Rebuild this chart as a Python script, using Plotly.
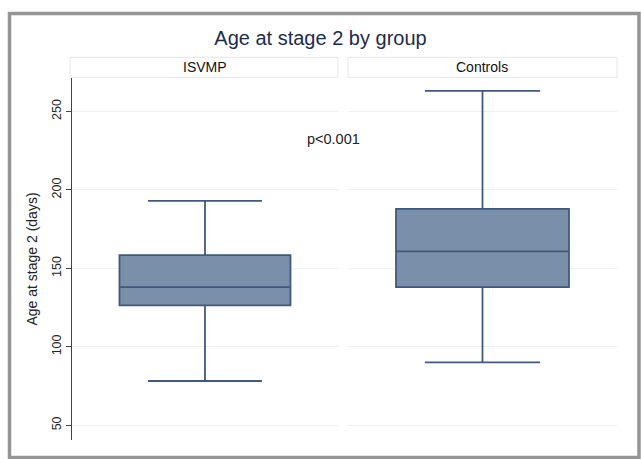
import plotly.graph_objects as go

groups = ["ISVMP", "Controls"]
lower_whisker = [78.2, 90.1]
q1_vals = [126.4, 138.0]
medians = [138.0, 160.8]
q3_vals = [158.4, 187.9]
upper_whisker = [193.0, 263.1]
y_ticks = [50, 100, 150, 200, 250]
p_text = "p<0.001"
p_y = 232.4

FILL = "#7a8fa9"
LINE = "#3f5a7d"
GRID = "#eceff5"
FONT = "Liberation Sans, Arial, sans-serif"

fig = go.Figure()
axes = [("x", "y"), ("x2", "y2")]
for i, g in enumerate(groups):
    xa, ya = axes[i]
    fig.add_trace(go.Box(
        x=[g],
        q1=[q1_vals[i]], median=[medians[i]], q3=[q3_vals[i]],
        lowerfence=[lower_whisker[i]], upperfence=[upper_whisker[i]],
        fillcolor=FILL, line=dict(color=LINE, width=1.8),
        width=0.643, whiskerwidth=0.666, boxpoints=False,
        xaxis=xa, yaxis=ya, showlegend=False, hoverinfo="skip",
    ))

yr = [40.6, 271.3]
fig.update_layout(
    width=641, height=459,
    margin=dict(l=72, r=24, t=78, b=19),
    paper_bgcolor="white", plot_bgcolor="white",
    font=dict(family=FONT, color="#222"),
    title=dict(text="Age at stage 2 by group", x=0.5, xanchor="center",
               y=1 - 38 / 459, yanchor="middle",
               font=dict(size=20, color="#1e2b4d", family=FONT)),
    xaxis=dict(domain=[0, 0.488], range=[-0.5, 0.5], showticklabels=False,
               showgrid=False, zeroline=False, showline=False, ticks=""),
    xaxis2=dict(domain=[0.5064, 1], range=[-0.5, 0.5], showticklabels=False,
                showgrid=False, zeroline=False, showline=False, ticks=""),
    yaxis=dict(range=yr, tickvals=y_ticks, tickangle=-90, showline=True,
               linecolor="#444", linewidth=1.2, ticks="outside", ticklen=5,
               tickcolor="#444", gridcolor=GRID, gridwidth=1, zeroline=False,
               tickfont=dict(size=12.5, color="#222"),
               title=dict(text="Age at stage 2 (days)", standoff=9,
                          font=dict(size=14, color="#222"))),
    yaxis2=dict(range=yr, tickvals=y_ticks, anchor="x2", matches="y",
                showticklabels=False, showline=False, ticks="",
                gridcolor=GRID, gridwidth=1, zeroline=False),
)

shapes = []
# outer gray frame
shapes.append(dict(type="rect", xref="paper", yref="paper",
                   x0=(9.5 - 72) / 545, x1=(639 - 72) / 545,
                   y0=(440 - 457.5) / 362, y1=(440 - 13.5) / 362,
                   line=dict(color="#959595", width=3.5), fillcolor="rgba(0,0,0,0)",
                   layer="above"))
# strip boxes
sy0 = (440 - 77.3) / 362
sy1 = (440 - 57.3) / 362
for xd, x0 in (("x domain", -0.0075), ("x2 domain", 0.0)):
    shapes.append(dict(type="rect", xref=xd, yref="paper", x0=x0, x1=1,
                       y0=sy0, y1=sy1, line=dict(color="#e3e7ee", width=1),
                       fillcolor="white", layer="below"))
fig.update_layout(shapes=shapes)

annotations = []
for xd, g in (("x domain", groups[0]), ("x2 domain", groups[1])):
    annotations.append(dict(text=g, xref=xd, yref="paper", x=0.5,
                            y=(sy0 + sy1) / 2, showarrow=False,
                            xanchor="center", yanchor="middle",
                            font=dict(size=14, color="#111", family=FONT)))
annotations.append(dict(text=p_text, xref="paper", yref="y",
                        x=(333 - 72) / 545, y=p_y, showarrow=False,
                        xanchor="center", yanchor="middle",
                        font=dict(size=14.5, color="#222", family=FONT)))
fig.update_layout(annotations=annotations)

fig.write_html("out.html", config={"displayModeBar": False},
               post_script="document.body.style.margin='0';document.body.style.padding='0';")
